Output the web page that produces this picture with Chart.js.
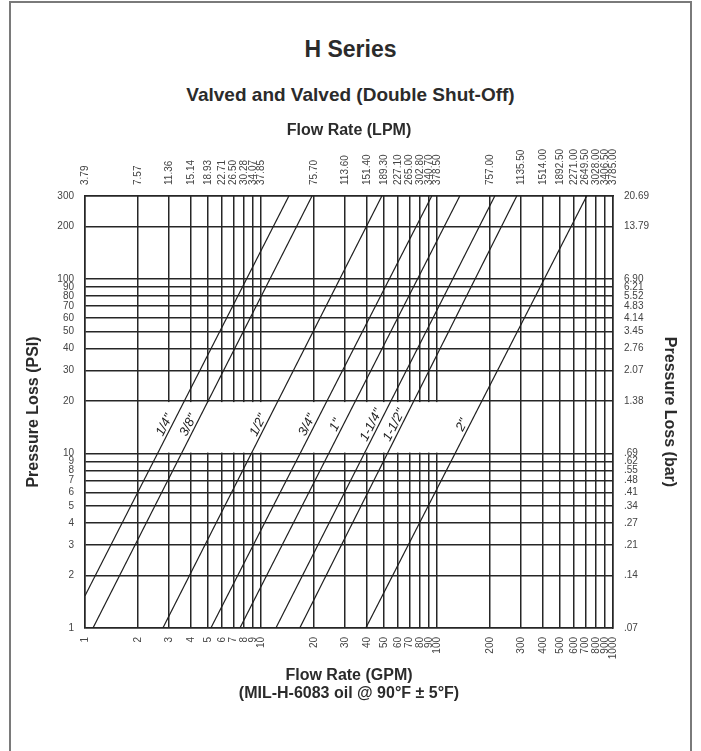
<!DOCTYPE html>
<html>
<head>
<meta charset="utf-8">
<title>H Series - Pressure Loss</title>
<script src="https://cdn.jsdelivr.net/npm/chart.js@4.4.1/dist/chart.umd.min.js"></script>
<style>
    html, body { margin: 0; padding: 0; background: #fff; overflow: hidden; }
    #wrap { position: relative; width: 701px; height: 751px; }
    .frame {
        position: absolute; left: 9px; top: 1px; width: 683px; height: 800px;
        box-sizing: border-box; border: 2px solid #7a7a7a;
    }
    .title {
        position: absolute; left: 0; width: 701px; text-align: center;
        font-family: "Liberation Sans", Arial, sans-serif; font-weight: bold;
        color: #2b2b2b; line-height: 1;
    }
    #main-title { top: 38px; font-size: 23px; }
    #sub-title { top: 85px; font-size: 19px; }
    canvas { position: absolute; left: 0; top: 0; }
</style>
</head>
<body>
<div id="wrap">
    <div class="frame"></div>
    <div class="title" id="main-title">H Series</div>
    <div class="title" id="sub-title">Valved and Valved (Double Shut-Off)</div>
    <canvas id="loss-chart" width="701" height="751"></canvas>
</div>
<script>
// Flow rate grid (GPM) and matching LPM labels for the top axis
const gpmTicks = [1, 2, 3, 4, 5, 6, 7, 8, 9, 10, 20, 30, 40, 50, 60, 70, 80, 90, 100,
    200, 300, 400, 500, 600, 700, 800, 900, 1000];
const lpmLabels = ['3.79', '7.57', '11.36', '15.14', '18.93', '22.71', '26.50', '30.28', '34.07', '37.85',
    '75.70', '113.60', '151.40', '189.30', '227.10', '265.00', '302.80', '340.70', '378.50',
    '757.00', '1135.50', '1514.00', '1892.50', '2271.00', '2649.50', '3028.00', '3406.50', '3785.00'];

// Pressure loss grid (PSI) and matching bar labels for the right axis
const psiTicks = [1, 2, 3, 4, 5, 6, 7, 8, 9, 10, 20, 30, 40, 50, 60, 70, 80, 90, 100, 200, 300];
const barLabels = ['.07', '.14', '.21', '.27', '.34', '.41', '.48', '.55', '.62', '.69',
    '1.38', '2.07', '2.76', '3.45', '4.14', '4.83', '5.52', '6.21', '6.90', '13.79', '20.69'];

// Coupling sizes, each drawn as a straight line between two read points
const sizes = ['1/4"', '3/8"', '1/2"', '3/4"', '1"', '1-1/4"', '1-1/2"', '2"'];
const startGpm = [1, 1.11, 2.77, 5.19, 7.59, 12.15, 16.6, 39.4];
const startPsi = [1.53, 1, 1, 1, 1, 1, 1, 1];
const endGpm = [14.4, 19.5, 48.6, 93.4, 134.7, 213, 284, 709];
const endPsi = [300, 300, 300, 300, 300, 300, 300, 300];

// Blank band that holds the size labels
const bandGpm = [2, 200];
const bandPsi = [10, 20];
const labelPsi = 14;

const gridColor = '#262626';
const fontFamily = '"Liberation Sans", Arial, sans-serif';

Chart.defaults.font.family = fontFamily;

const bandPlugin = {
    id: 'labelBand',
    beforeDatasetsDraw(chart) {
        const { ctx, scales: { x, y } } = chart;
        const l = x.getPixelForValue(bandGpm[0]) + 1;
        const r = x.getPixelForValue(bandGpm[1]) - 1;
        const t = y.getPixelForValue(bandPsi[1]) + 1;
        const b = y.getPixelForValue(bandPsi[0]) - 1;
        ctx.save();
        ctx.fillStyle = '#fff';
        ctx.fillRect(l, t, r - l, b - t);
        ctx.restore();
    }
};

const sizeLabelPlugin = {
    id: 'sizeLabels',
    afterDatasetsDraw(chart) {
        const { ctx, scales: { x, y } } = chart;
        ctx.save();
        ctx.font = 'italic 13px ' + fontFamily;
        ctx.fillStyle = '#222';
        ctx.textAlign = 'center';
        ctx.textBaseline = 'alphabetic';
        sizes.forEach((name, i) => {
            const lx0 = Math.log10(startGpm[i]), ly0 = Math.log10(startPsi[i]);
            const lx1 = Math.log10(endGpm[i]), ly1 = Math.log10(endPsi[i]);
            const t = (Math.log10(labelPsi) - ly0) / (ly1 - ly0);
            const gpm = Math.pow(10, lx0 + t * (lx1 - lx0));
            const px = x.getPixelForValue(gpm);
            const py = y.getPixelForValue(labelPsi);
            const ang = Math.atan2(
                y.getPixelForValue(endPsi[i]) - y.getPixelForValue(startPsi[i]),
                x.getPixelForValue(endGpm[i]) - x.getPixelForValue(startGpm[i])
            );
            ctx.save();
            ctx.translate(px, py);
            ctx.rotate(ang);
            ctx.fillText(name, 0, -3);
            ctx.restore();
        });
        ctx.restore();
    }
};

function fixedTicks(values) {
    return scale => { scale.ticks = values.map(v => ({ value: v })); };
}

const tickFont = { family: fontFamily, size: 10 };
const titleFont = { family: fontFamily, size: 16, weight: 'bold', lineHeight: 1.125 };

new Chart(document.getElementById('loss-chart'), {
    type: 'line',
    data: {
        datasets: sizes.map((name, i) => ({
            label: name,
            data: [
                { x: startGpm[i], y: startPsi[i] },
                { x: endGpm[i], y: endPsi[i] }
            ],
            borderColor: '#1e1e1e',
            borderWidth: 1.2,
            pointRadius: 0,
            fill: false,
            tension: 0,
            xAxisID: 'x',
            yAxisID: 'y'
        }))
    },
    options: {
        responsive: false,
        animation: false,
        layout: { padding: 0 },
        plugins: {
            legend: { display: false },
            tooltip: { enabled: false }
        },
        scales: {
            x: {
                type: 'logarithmic',
                position: 'bottom',
                min: 1,
                max: 1000,
                afterBuildTicks: fixedTicks(gpmTicks),
                afterFit: s => { s.height = 123; },
                grid: { color: gridColor, lineWidth: 1.5, drawTicks: false },
                border: { color: gridColor, width: 1.5 },
                ticks: {
                    autoSkip: false, minRotation: 90, maxRotation: 90, padding: 9,
                    font: tickFont, color: '#444',
                    callback: (v, i) => String(gpmTicks[i])
                },
                title: {
                    display: true,
                    text: ['Flow Rate (GPM)', '(MIL-H-6083 oil @ 90°F ± 5°F)'],
                    font: titleFont, color: '#2b2b2b',
                    padding: { top: 0, bottom: 48 }
                }
            },
            x2: {
                type: 'logarithmic',
                position: 'top',
                min: 1,
                max: 1000,
                afterBuildTicks: fixedTicks(gpmTicks),
                afterFit: s => { s.height = 196; },
                grid: { display: false, drawTicks: false },
                border: { color: gridColor, width: 1.5 },
                ticks: {
                    autoSkip: false, minRotation: 90, maxRotation: 90, padding: 11,
                    labelOffset: 12,
                    font: tickFont, color: '#444',
                    callback: (v, i) => lpmLabels[i]
                },
                title: {
                    display: true, text: 'Flow Rate (LPM)',
                    font: titleFont, color: '#2b2b2b',
                    padding: { top: 122, bottom: 0 }
                }
            },
            y: {
                type: 'logarithmic',
                position: 'left',
                min: 1,
                max: 300,
                afterBuildTicks: fixedTicks(psiTicks),
                afterFit: s => { s.width = 85; },
                grid: { color: gridColor, lineWidth: 1.5, drawTicks: false },
                border: { color: gridColor, width: 1.5 },
                ticks: {
                    autoSkip: false, padding: 11,
                    font: tickFont, color: '#444',
                    callback: (v, i) => String(psiTicks[i])
                },
                title: {
                    display: true, text: 'Pressure Loss (PSI)',
                    font: titleFont, color: '#2b2b2b',
                    padding: { top: 25, bottom: 0 }
                }
            },
            y2: {
                type: 'logarithmic',
                position: 'right',
                min: 1,
                max: 300,
                afterBuildTicks: fixedTicks(psiTicks),
                afterFit: s => { s.width = 88; },
                grid: { display: false, drawTicks: false },
                border: { color: gridColor, width: 1.5 },
                ticks: {
                    autoSkip: false, padding: 11,
                    font: tickFont, color: '#444',
                    callback: (v, i) => barLabels[i]
                },
                title: {
                    display: true, text: 'Pressure Loss (bar)',
                    font: titleFont, color: '#2b2b2b',
                    padding: { top: 23, bottom: 0 }
                }
            }
        }
    },
    plugins: [bandPlugin, sizeLabelPlugin]
});
</script>
</body>
</html>
